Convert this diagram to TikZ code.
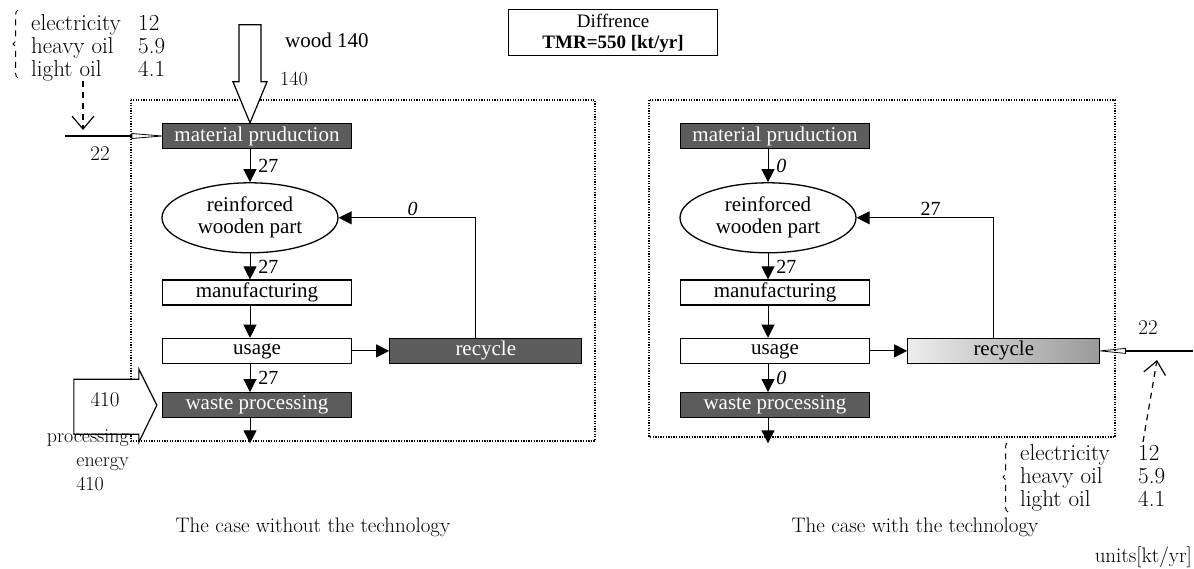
\documentclass[tikz,border=0pt]{standalone}
\usepackage{fontspec}
\newfontfamily\boxfont{Liberation Serif}
\usetikzlibrary{arrows.meta,positioning,calc,shapes.geometric,decorations.pathreplacing}
\definecolor{procgray}{gray}{0.36}
\definecolor{lightproc}{gray}{0.93}
\definecolor{midproc}{gray}{0.6}

\begin{document}
\begin{tikzpicture}[
  x=1pt, y=-1pt,
  stage/.style={draw, line width=1.3pt, fill=white, minimum width=189pt, minimum height=25pt, inner sep=0pt, font=\boxfont\fontsize{21}{22}\selectfont},
  darkstage/.style={stage, fill=procgray, text=white},
  part/.style={draw, line width=1.3pt, ellipse, minimum width=176pt, minimum height=70pt, inner sep=0pt, align=center, font=\boxfont\fontsize{21}{22}\selectfont},
  flow/.style={font=\boxfont\fontsize{20}{22}\selectfont, inner sep=2pt},
  note/.style={font=\fontsize{21}{24}\selectfont, inner sep=0pt},
  fuelnote/.style={font=\fontsize{23}{23}\selectfont, inner sep=0pt, anchor=north west, align=left},
  arr/.style={-{Triangle[length=13pt,width=13pt]}, line width=0.9pt},
  frame/.style={line width=1.3pt, dash pattern=on 1.3pt off 1.3pt},
  feed/.style={line width=1.2pt, dash pattern=on 6pt off 5pt, -{Straight Barb[length=13pt,width=22pt,line width=1.2pt]}},
  fuel/.style={line width=2.6pt},
  brace/.style={line width=1pt, dash pattern=on 6pt off 5pt, decorate, decoration={brace, amplitude=5pt}},
]
  \useasboundingbox (0,0) rectangle (1194,569);

  % frames
  \draw[frame] (131,100) rectangle (595,441);
  \draw[frame] (649,100) rectangle (1115,437);

  \node[draw, line width=1pt, minimum width=209pt, minimum height=46pt, inner sep=0pt, align=center,
        font=\boxfont\fontsize{19}{21}\selectfont] (diff) at (613,33) {Diffrence\\\textbf{TMR=550 [kt/yr]}};

  % without the technology
  \node[darkstage] (mpL) at (257,136) {material pruduction};
  \node[part, below=33pt of mpL, xshift=-7pt] (partL) {reinforced\\wooden part};
  \node[stage, below=26pt of partL, xshift=7pt] (manL) {manufacturing};
  \node[stage, below=32pt of manL] (useL) {usage};
  \node[darkstage, below=28pt of useL] (wasteL) {waste processing};
  \node[darkstage, right=37pt of useL, minimum width=192pt] (recL) {recycle};
  \coordinate (outL) at ($(wasteL.south -| partL)+(0,25)$);

  \draw[arr] (mpL.south -| partL) -- node[flow, right=6pt] (qL1) {27} (partL.north);
  \draw[arr] (partL.south) -- node[flow, right=6pt] (qL2) {27} (manL.north -| partL);
  \draw[arr] (manL.south -| partL) -- (useL.north -| partL);
  \draw[arr] (useL.south -| partL) -- node[flow, right=6pt] (qL3) {27} (wasteL.north -| partL);
  \draw[arr] (wasteL.south -| partL) -- (outL);
  \draw[arr] (useL.east) -- (recL.west);
  \draw[arr] ([xshift=-10pt]recL.north) |- node[flow, above, pos=0.73] (qL4) {\textit{0}} (partL.east);

  % wood
  \draw[fill=white, line width=1.2pt] (mpL.north -| partL) -- ++(-17,-41) -- ++(6,0) -- ++(0,-57)
    -- ++(22,0) -- ++(0,57) -- ++(6,0) -- cycle;
  \node[flow, anchor=west, font=\boxfont\fontsize{21}{22}\selectfont] (woodL) at (283,40) {wood 140};
  \node[note, anchor=west, font=\fontsize{20}{22}\selectfont] (woodinL) at (280,79) {140};

  % energy for material
  \node[fuelnote] (fuelL) at (31,14)
    {\makebox[107pt][l]{electricity}12\\\makebox[107pt][l]{heavy oil}5.9\\\makebox[107pt][l]{light oil}4.1};
  \draw[brace] (18,78) -- (18,10);
  \coordinate (in22L) at (65,136);
  \coordinate (dropL) at (83,130);
  \draw[feed] (dropL |- fuelL.south) -- (dropL);
  \draw[fuel] (in22L) -- ([xshift=-30pt]mpL.west);
  \draw[line width=0.8pt] ([xshift=-30pt,yshift=2.5pt]mpL.west) -- (mpL.west) -- ([xshift=-30pt,yshift=-2.5pt]mpL.west) -- cycle;
  \node[note] (e22L) at (100,154) {22};

  % processing energy
  \draw[fill=white, line width=1.2pt] ([xshift=-5pt]wasteL.west) -- ++(-18,-36) -- ++(0,10) -- ++(-65,0)
    -- ++(0,55) -- ++(65,0) -- ++(0,8) -- cycle;
  \node[note] (pin410L) at (105,400) {410};
  \node[note, anchor=north east, align=right, font=\fontsize{20}{24}\selectfont] (penergyL) at (129,429)
    {processing\\energy\\410\hspace*{25pt}};

  % with the technology
  \node[darkstage] (mpR) at (775,136) {material pruduction};
  \node[part, below=33pt of mpR, xshift=-7pt] (partR) {reinforced\\wooden part};
  \node[stage, below=26pt of partR, xshift=7pt] (manR) {manufacturing};
  \node[stage, below=32pt of manR] (useR) {usage};
  \node[darkstage, below=28pt of useR] (wasteR) {waste processing};
  \node[stage, right=37pt of useR, minimum width=192pt, left color=lightproc, right color=midproc] (recR) {recycle};
  \coordinate (outR) at ($(wasteR.south -| partR)+(0,25)$);

  \draw[arr] (mpR.south -| partR) -- node[flow, right=6pt] (qR1) {\textit{0}} (partR.north);
  \draw[arr] (partR.south) -- node[flow, right=6pt] (qR2) {27} (manR.north -| partR);
  \draw[arr] (manR.south -| partR) -- (useR.north -| partR);
  \draw[arr] (useR.south -| partR) -- node[flow, right=6pt] (qR3) {\textit{0}} (wasteR.north -| partR);
  \draw[arr] (wasteR.south -| partR) -- (outR);
  \draw[arr] (useR.east) -- (recR.west);
  \draw[arr] ([xshift=-10pt]recR.north) |- node[flow, above, pos=0.73] (qR4) {27} (partR.east);

  % energy for recycling
  \coordinate (edgeR) at (1193,0);
  \draw[line width=0.8pt] (recR.east) -- ([xshift=25pt,yshift=2.5pt]recR.east) -- ([xshift=25pt,yshift=-2.5pt]recR.east) -- cycle;
  \draw[fuel] ([xshift=25pt]recR.east) -- (recR.east -| edgeR);
  \node[note] (e22R) at (1148,328) {22};
  \node[fuelnote] (fuelR) at (1020,444)
    {\makebox[118pt][l]{electricity}12\\\makebox[118pt][l]{heavy oil}5.9\\\makebox[118pt][l]{light oil}4.1};
  \draw[brace] (1008,512) -- (1008,442);
  \coordinate (riseR) at (1143,442);
  \coordinate (dropR) at (1157,360);
  \draw[feed] (riseR) -- (dropR);

  % captions
  \node[note] (capL) at (313,527) {The case without the technology};
  \node[note] (capR) at (915,527) {The case with the technology};
  \node[note, anchor=east] (units) at (1192,557) {units[kt/yr]};
\end{tikzpicture}
\end{document}
